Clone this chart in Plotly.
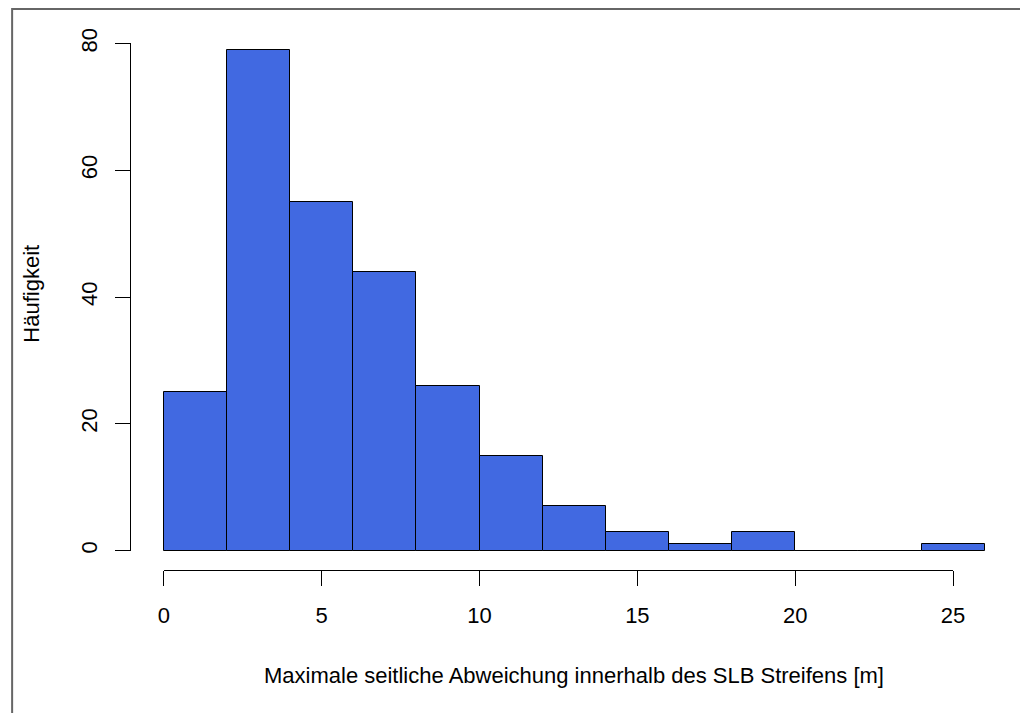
import plotly.graph_objects as go

# ---- data ----
bin_edges = [0, 2, 4, 6, 8, 10, 12, 14, 16, 18, 20, 22, 24, 26]
counts = [25, 79, 55, 44, 26, 15, 7, 3, 1, 3, 0, 0, 1]
x_ticks = [0, 5, 10, 15, 20, 25]
y_ticks = [0, 20, 40, 60, 80]
x_title = "Maximale seitliche Abweichung innerhalb des SLB Streifens [m]"
y_title = "Häufigkeit"

# ---- layout geometry ----
W, H = 1020, 713
L, R, T, B = 131, 0, 23, 143
xr = [-1.04, 26.74]
yr = [-3.04, 83.23]
FONT = "Liberation Sans, Arial, sans-serif"
FS = 22

centers = [(a + b) / 2 for a, b in zip(bin_edges[:-1], bin_edges[1:])]
widths = [b - a for a, b in zip(bin_edges[:-1], bin_edges[1:])]

pw = W - L - R
ph = H - T - B


def px_to_paper_x(px):
    return (px - L) / pw


def px_to_paper_y(py):
    return (H - B - py) / ph


def frac(v, r):
    return (v - r[0]) / (r[1] - r[0])


fig = go.Figure()
fig.add_trace(go.Bar(
    x=centers, y=counts, width=widths,
    marker=dict(color="#4169E1", line=dict(color="black", width=1)),
    showlegend=False, hoverinfo="x+y",
))
# empty helper traces so the R-style offset axes are drawn
fig.add_trace(go.Scatter(x=[], y=[], xaxis="x2", yaxis="y", showlegend=False))
fig.add_trace(go.Scatter(x=[], y=[], xaxis="x", yaxis="y2", showlegend=False))

axis_common = dict(
    showgrid=False, zeroline=False, showline=True, linecolor="black",
    linewidth=1, ticks="outside", ticklen=15, tickcolor="black", tickwidth=1,
    tickfont=dict(family=FONT, size=FS, color="black"), fixedrange=True,
)

border = dict(color="#666666", width=2)

fig.update_layout(
    width=W, height=H, autosize=False,
    margin=dict(l=L, r=R, t=T, b=B, pad=0),
    paper_bgcolor="white", plot_bgcolor="rgba(0,0,0,0)",
    bargap=0,
    xaxis=dict(range=xr, visible=False, fixedrange=True),
    yaxis=dict(range=yr, visible=False, fixedrange=True),
    xaxis2=dict(
        domain=[frac(x_ticks[0], xr), frac(x_ticks[-1], xr)],
        range=[x_ticks[0], x_ticks[-1]], anchor="y",
        tickvals=x_ticks, ticklabelstandoff=11, **axis_common,
    ),
    yaxis2=dict(
        domain=[frac(y_ticks[0], yr), frac(y_ticks[-1], yr)],
        range=[y_ticks[0], y_ticks[-1]], anchor="x",
        tickvals=y_ticks, tickangle=-90, ticklabelstandoff=9, **axis_common,
    ),
    annotations=[
        dict(text=x_title, xref="x", yref="paper",
             x=(xr[0] + 27.04) / 2, y=px_to_paper_y(675),
             showarrow=False, xanchor="center", yanchor="middle",
             font=dict(family=FONT, size=FS, color="black")),
        dict(text=y_title, xref="paper", yref="y",
             x=px_to_paper_x(30), y=(yr[0] + yr[1]) / 2 + 0.5, textangle=-90,
             showarrow=False, xanchor="center", yanchor="middle",
             font=dict(family=FONT, size=FS, color="black")),
    ],
    shapes=[
        dict(type="rect", xref="paper", yref="paper",
             x0=px_to_paper_x(10.5), y0=px_to_paper_y(H + 40),
             x1=px_to_paper_x(W + 40), y1=px_to_paper_y(9),
             line=border, fillcolor="rgba(0,0,0,0)", layer="above"),
    ],
)

fig.write_html(
    "out.html",
    config={"displayModeBar": False, "responsive": False},
    post_script=(
        "document.documentElement.style.margin='0';"
        "document.documentElement.style.overflow='hidden';"
        "document.body.style.margin='0';"
        "document.body.style.overflow='hidden';"
    ),
)
